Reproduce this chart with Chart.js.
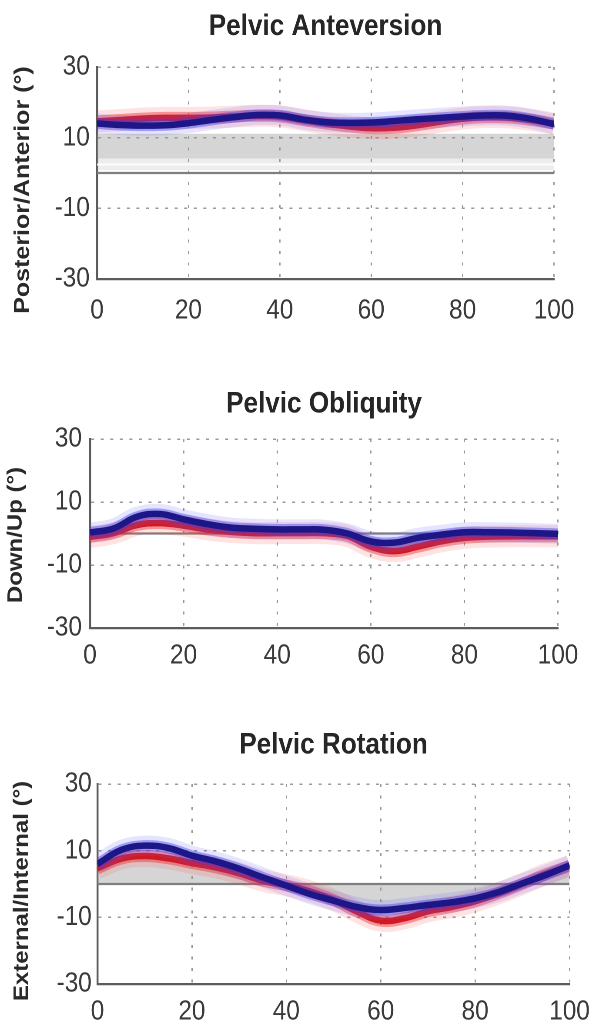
<!DOCTYPE html>
<html><head><meta charset="utf-8">
<script src="https://cdn.jsdelivr.net/npm/chart.js"></script>
<style>
html,body{margin:0;padding:0;background:#fff;width:599px;height:1026px;overflow:hidden;}
.panel{position:absolute;left:0;transform-origin:0 0;transform:scaleX(0.87);}
canvas{display:block;}
</style></head><body>
<div class="panel" style="top:0px;width:689px;height:330px"><canvas id="c1" width="689" height="330"></canvas></div>
<div class="panel" style="top:340px;width:689px;height:330px"><canvas id="c2" width="689" height="330"></canvas></div>
<div class="panel" style="top:680px;width:689px;height:346px"><canvas id="c3" width="689" height="346"></canvas></div>
<script>
// ---- data ----
const pct = [0,5,10,15,20,25,30,35,40,45,50,55,60,65,70,75,80,85,90,95,100];
const xTicks = [0,20,40,60,80,100];
const yTicks = [-30,-10,10,30];
const edgeX = [0,100];
const zeroLine = [0,0];

// Pelvic Anteversion
const anteBlue = [14.0,13.6,13.4,13.5,14.1,15.0,15.8,16.4,16.3,15.2,14.4,14.2,14.3,14.7,15.2,15.6,16.0,16.3,16.2,15.3,13.8];
const anteRed  = [14.6,15.0,15.4,15.6,15.6,15.7,16.0,16.2,16.0,15.0,14.0,13.2,12.7,12.8,13.5,14.5,15.4,15.8,15.7,15.0,14.0];
const anteNormLow  = [4.1,4.1];
const anteNormHigh = [11.1,11.1];
const anteLightLow = [0.8,0.8];
const anteMidLine  = [2.4,2.4];

// Pelvic Obliquity
const obliBlue = [0.3,1.6,5.3,6.2,4.5,3.0,1.9,1.5,1.3,1.3,1.2,0.0,-2.5,-2.9,-1.4,-0.4,0.4,0.4,0.3,0.1,-0.1];
const obliRed  = [-1.1,0.1,2.7,3.3,2.5,1.3,0.5,0.1,0.1,0.1,0.1,-0.8,-4.2,-5.6,-4.2,-2.5,-1.4,-1.0,-0.9,-0.9,-0.9];

// Pelvic Rotation
const rotBlue = [6.0,10.2,11.5,10.8,8.5,6.8,4.6,2.0,-0.5,-3.0,-5.0,-6.9,-7.8,-7.2,-6.3,-5.5,-4.3,-2.4,0.2,2.7,5.6];
const rotRed  = [4.7,7.6,8.4,7.7,6.3,5.0,3.2,1.0,-0.4,-2.2,-4.8,-8.3,-11.0,-10.3,-8.2,-6.9,-5.2,-2.8,0.0,3.0,5.4];
const rotNorm = [4.5,7.5,8.5,7.5,6.0,4.5,2.5,0.5,-1.0,-3.0,-4.8,-6.5,-7.3,-6.8,-5.8,-4.8,-3.5,-1.5,0.5,2.5,4.5];

// ---- helpers ----
const FAM = "'Liberation Sans', Arial, Helvetica, sans-serif";
function pts(xs, ys){ return xs.map((x,i)=>({x:x, y:ys[i]})); }
function ln(xs, ys, color, width, extra){
  return Object.assign({data:pts(xs,ys), borderColor:color, borderWidth:width, pointRadius:0, tension:0.4, fill:false}, extra||{});
}
function curves(blue, red){
  return [
    ln(pct, red, 'rgba(255,70,70,0.15)', 22),
    ln(pct, red, 'rgba(235,35,40,0.42)', 12),
    ln(pct, red, 'rgb(210,25,35)', 6.5),
    ln(pct, blue, 'rgba(100,100,255,0.17)', 20),
    ln(pct, blue, 'rgba(60,60,235,0.42)', 11),
    ln(pct, blue, 'rgb(28,22,135)', 6.5)
  ];
}
const yTitlePlugin = {
  id:'yTitle',
  afterDraw(chart, args, o){
    const ctx = chart.ctx;
    ctx.save();
    ctx.translate(o.x, o.y);
    ctx.rotate(-Math.PI/2);
    ctx.font = 'bold ' + o.size + 'px ' + FAM;
    ctx.fillStyle = '#2a2a2a';
    ctx.textAlign = 'center';
    ctx.textBaseline = 'middle';
    ctx.fillText(o.text, 0, 0);
    ctx.restore();
  }
};
function makePanel(id, title, ytitle, datasets, g){
  const n = datasets.length;
  datasets.forEach((d,i)=>{ d.order = n - i; });
  return new Chart(document.getElementById(id), {
    type:'line',
    data:{datasets:datasets},
    plugins:[yTitlePlugin],
    options:{
      responsive:false, animation:false, devicePixelRatio:2, events:[],
      layout:{padding:{left:0, right:g.padR, top:g.padT, bottom:g.padB}},
      plugins:{
        legend:{display:false}, tooltip:{enabled:false},
        title:{display:true, text:title, fullSize:false, color:'#262626',
          font:{family:FAM, size:30, weight:'bold', lineHeight:1.2},
          padding:{top:0, bottom:g.titleB}},
        yTitle:{text:ytitle, x:g.ytX, y:g.ytY, size:g.ytSize}
      },
      scales:{
        x:{type:'linear', min:0, max:100,
          afterBuildTicks:s=>{ s.ticks = xTicks.map(v=>({value:v})); },
          afterFit:s=>{ s.height = g.xH; },
          grid:{color:'#9a9a9a', lineWidth:1.5, drawTicks:false, borderDash:[3,8.5]},
          border:{display:true, color:'#5c5c5c', width:2.2, dash:[3,8.5]},
          ticks:{padding:g.xPad, color:'#3a3a3a', maxRotation:0, autoSkip:false,
            font:{family:FAM, size:28}}
        },
        y:{type:'linear', min:-30, max:30,
          afterBuildTicks:s=>{ s.ticks = yTicks.map(v=>({value:v})); },
          afterFit:s=>{ s.width = g.yW; },
          grid:{color:'#9a9a9a', lineWidth:1.5, drawTicks:false, borderDash:[3.5,7.5]},
          border:{display:true, color:'#5c5c5c', width:2.2, dash:[3.5,7.5]},
          ticks:{padding:g.yPad, color:'#3a3a3a', font:{family:FAM, size:28}}
        }
      }
    }
  });
}

// Panel 1
makePanel('c1', 'Pelvic Anteversion', 'Posterior/Anterior (°)', [
  ln(edgeX, anteLightLow, 'rgba(0,0,0,0)', 0),
  ln(edgeX, anteNormLow, 'rgba(0,0,0,0)', 0, {fill:'-1', backgroundColor:'rgba(150,150,150,0.17)'}),
  ln(edgeX, anteNormLow, 'rgba(0,0,0,0)', 0),
  ln(edgeX, anteNormHigh, 'rgba(0,0,0,0)', 0, {fill:'-1', backgroundColor:'rgba(150,150,150,0.4)'}),
  ln(edgeX, anteMidLine, 'rgba(255,255,255,0.9)', 2),
  ln(edgeX, zeroLine, '#7f7f7f', 2.2)
].concat(curves(anteBlue, anteRed)),
{padR:52.2, padT:8.5, titleB:22.5, padB:0, xH:51, yW:111.5, xPad:15, yPad:8.3, ytX:26.4, ytY:190, ytSize:25});

// Panel 2
makePanel('c2', 'Pelvic Obliquity', 'Down/Up (°)', [
  ln(edgeX, zeroLine, '#7f7f7f', 2.2)
].concat(curves(obliBlue, obliRed)),
{padR:47.6, padT:46, titleB:17, padB:0, xH:42, yW:103.4, xPad:11, yPad:9.2, ytX:18.4, ytY:195, ytSize:24});

// Panel 3
makePanel('c3', 'Pelvic Rotation', 'External/Internal (°)', [
  ln(pct, rotNorm, 'rgba(0,0,0,0)', 0, {fill:'origin', backgroundColor:'rgba(150,150,150,0.4)'}),
  ln(edgeX, zeroLine, '#7f7f7f', 2.2)
].concat(curves(rotBlue, rotRed)),
{padR:32.7, padT:47, titleB:21, padB:0, xH:42, yW:112, xPad:11, yPad:6.5, ytX:25.3, ytY:211, ytSize:24});
</script>
</body></html>
